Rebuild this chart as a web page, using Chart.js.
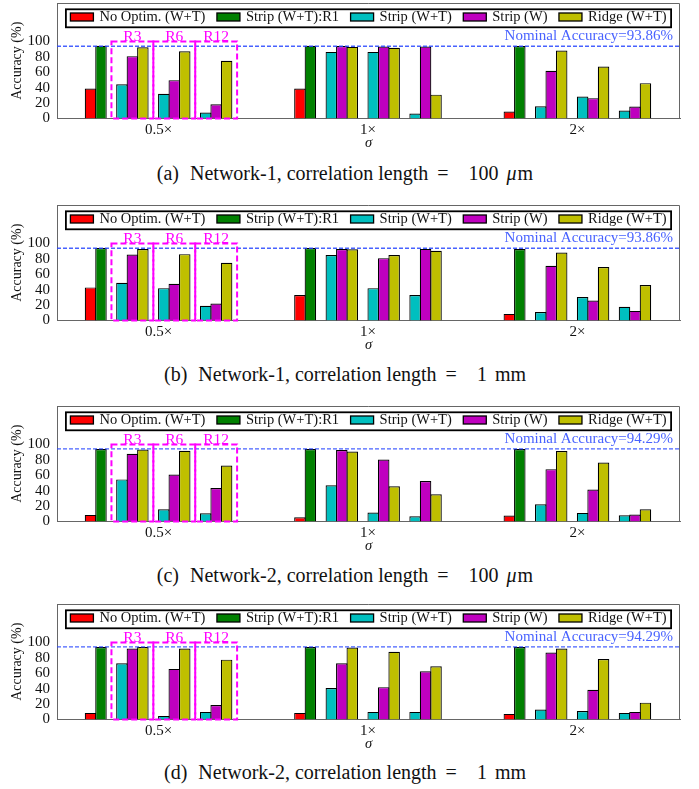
<!DOCTYPE html>
<html><head><meta charset="utf-8">
<script src="https://cdn.jsdelivr.net/npm/chart.js@4.4.0/dist/chart.umd.min.js"></script>
<style>
body{margin:0;background:#fff;width:699px;height:789px;position:relative;overflow:hidden;font-family:"Liberation Serif","DejaVu Serif",serif;color:#111;}
.panel{position:absolute;left:0;width:699px;height:160px;}
.cap{position:absolute;left:0;width:690px;text-align:center;font-size:20px;line-height:22px;white-space:nowrap;}
.g1{margin-left:11px}.g2{margin-left:9px}.g3{margin-left:20px}.g4{margin-left:8px}
.mu{font-style:italic;margin-right:1px}
</style></head><body>
<div class="panel" style="top:0px"><canvas id="c0" width="699" height="160"></canvas></div>
<div class="panel" style="top:202px"><canvas id="c1" width="699" height="160"></canvas></div>
<div class="panel" style="top:403px"><canvas id="c2" width="699" height="160"></canvas></div>
<div class="panel" style="top:601px"><canvas id="c3" width="699" height="160"></canvas></div>
<div class="cap" style="top:162px">(a)<span class="g1">Network-1, correlation length</span><span class="g2">=</span><span class="g3">100</span><span class="g4"><span class="mu">μ</span>m</span></div>
<div class="cap" style="top:363px">(b)<span class="g1">Network-1, correlation length</span><span class="g2">=</span><span class="g3">1</span><span class="g4">mm</span></div>
<div class="cap" style="top:564px">(c)<span class="g1">Network-2, correlation length</span><span class="g2">=</span><span class="g3">100</span><span class="g4"><span class="mu">μ</span>m</span></div>
<div class="cap" style="top:761px">(d)<span class="g1">Network-2, correlation length</span><span class="g2">=</span><span class="g3">1</span><span class="g4">mm</span></div>
<script>
// ---- data ----
const groupLabels = ['0.5×', '1×', '2×'];
const subsetLabels = ['R3', 'R6', 'R12'];
const seriesLabels = ['No Optim. (W+T)', 'Strip (W+T):R1', 'Strip (W+T)', 'Strip (W)', 'Ridge (W+T)'];
const nominalAcc = [93.86, 93.86, 94.29, 94.29];
const yTicks = [0, 20, 40, 60, 80, 100];

// (a) Network-1, 100 um   values per group [0.5x, 1x, 2x]; subsets [R3, R6, R12]
const noOptimA = [39, 39, 9];
const stripR1A = [94.5, 94.5, 94.2];
const stripWTA = [[44.5, 32, 7.8], [86.5, 86.5, 6.5], [16, 28.6, 10.4]];
const stripWA  = [[81, 49.8, 18.6], [94, 93.5, 93.5], [62, 26.4, 15.6]];
const ridgeA   = [[92.6, 87.4, 74.9], [93, 91.8, 31], [88.3, 67.5, 45.9]];

// (b) Network-1, 1 mm
const noOptimB = [43, 33, 8.6];
const stripR1B = [94, 94, 92.7];
const stripWTB = [[49, 42, 19], [85, 42, 33], [11, 30.6, 17.7]];
const stripWB  = [[85.8, 47.8, 22], [92.7, 81, 93], [71, 25.9, 12.5]];
const ridgeB   = [[92.7, 86.2, 75], [92.5, 85, 90.5], [88.4, 69.4, 46]];

// (c) Network-2, 100 um
const noOptimC = [8.6, 5.6, 7.8];
const stripR1C = [94, 94, 94];
const stripWTC = [[54.7, 16, 10.8], [47, 11.6, 6.9], [22.4, 11.2, 8.2]];
const stripWC  = [[88, 61, 43.5], [92.7, 80.6, 52.6], [68, 41.4, 9]];
const ridgeC   = [[93.5, 91.8, 72.8], [91, 45.7, 35.3], [91.4, 76.7, 16]];

// (d) Network-2, 1 mm
const noOptimD = [8.6, 8.6, 7.3];
const stripR1D = [94, 94, 94];
const stripWTD = [[73, 4.7, 9.9], [40.8, 9.9, 9.9], [12.9, 11, 8.6]];
const stripWD  = [[92.3, 65.7, 18.9], [73, 42, 62.7], [87, 38.6, 9.9]];
const ridgeD   = [[94, 92.3, 77.7], [93.5, 88, 69], [92.3, 78.5, 21.9]];

const panels = [
  {noOptim: noOptimA, stripR1: stripR1A, stripWT: stripWTA, stripW: stripWA, ridge: ridgeA, nominal: nominalAcc[0]},
  {noOptim: noOptimB, stripR1: stripR1B, stripWT: stripWTB, stripW: stripWB, ridge: ridgeB, nominal: nominalAcc[1]},
  {noOptim: noOptimC, stripR1: stripR1C, stripWT: stripWTC, stripW: stripWC, ridge: ridgeC, nominal: nominalAcc[2]},
  {noOptim: noOptimD, stripR1: stripR1D, stripWT: stripWTD, stripW: stripWD, ridge: ridgeD, nominal: nominalAcc[3]},
];

// ---- layout / style ----
const FONT = '"Liberation Serif", "DejaVu Serif", serif';
const colors = ['#ff0000', '#008000', '#00bfbf', '#bf00bf', '#bfbf00'];
const groupPos = [0, 20, 40];          // slot units (one slot = one bar width)
const subsetStart = [-3.5, 0.5, 4.5];  // centre of first bar of each subset
const nominalColor = 'rgba(40,70,255,0.85)';
const spineColor = '#666';

const decor = {
  id: 'decor',
  afterDatasetsDraw(chart, args, opts) {
    const {ctx, chartArea: a, scales: {x, y}} = chart;
    ctx.save();
    // top/right spines
    ctx.strokeStyle = spineColor; ctx.lineWidth = 1;
    ctx.beginPath();
    ctx.moveTo(a.left, a.top + 0.5); ctx.lineTo(a.right - 0.5, a.top + 0.5); ctx.lineTo(a.right - 0.5, a.bottom);
    ctx.stroke();
    // nominal line
    const ny = y.getPixelForValue(opts.nominal);
    ctx.strokeStyle = nominalColor; ctx.lineWidth = 1.3; ctx.setLineDash([4, 2]);
    ctx.beginPath(); ctx.moveTo(a.left, ny); ctx.lineTo(a.right, ny); ctx.stroke();
    ctx.setLineDash([]);
    ctx.fillStyle = nominalColor; ctx.font = '15px ' + FONT;
    ctx.textAlign = 'right'; ctx.textBaseline = 'alphabetic';
    ctx.fillText('Nominal Accuracy=' + opts.nominal.toFixed(2) + '%', a.right - 7, ny - 6);
    // magenta subset boxes in first group
    ctx.strokeStyle = '#ff00ff'; ctx.lineWidth = 2; ctx.setLineDash([6, 3]);
    ctx.fillStyle = '#ff00ff'; ctx.textAlign = 'center'; ctx.font = '15.5px ' + FONT;
    const y0 = y.getPixelForValue(100), y1 = y.getPixelForValue(0);
    subsetStart.forEach((s, i) => {
      const x0 = x.getPixelForValue(groupPos[0] + s - 1);
      const x1 = x.getPixelForValue(groupPos[0] + s + 3);
      ctx.strokeRect(x0, y0, x1 - x0, y1 - y0);
      ctx.fillText(subsetLabels[i], (x0 + x1) / 2, y0 - 1);
    });
    ctx.setLineDash([]);
    // legend
    ctx.font = '14.5px ' + FONT;
    const ds = chart.data.datasets;
    const boxW = 23, boxH = 8, gap = 6, spacing = 11.5;
    const widths = ds.map(d => ctx.measureText(d.label).width);
    const total = widths.reduce((s, w) => s + w + boxW + gap, 0) + spacing * (ds.length - 1);
    const fx = (a.left + a.right) / 2 - total / 2 - 4.5;
    const fy = a.top + 6.3;
    ctx.fillStyle = '#fff'; ctx.fillRect(fx, fy, total + 9, 18);
    ctx.strokeStyle = '#000'; ctx.lineWidth = 1.8;
    ctx.strokeRect(fx, fy, total + 9, 18);
    let cx = fx + 4.5;
    ctx.textAlign = 'left'; ctx.textBaseline = 'alphabetic';
    ds.forEach((d, i) => {
      ctx.fillStyle = d.backgroundColor; ctx.fillRect(cx, fy + 3.7, boxW, boxH);
      ctx.strokeStyle = '#000'; ctx.lineWidth = 1.3; ctx.strokeRect(cx, fy + 3.7, boxW, boxH);
      ctx.fillStyle = '#111';
      ctx.fillText(d.label, cx + boxW + gap, fy + 11.8);
      cx += boxW + gap + widths[i] + spacing;
    });
    ctx.restore();
  }
};

function pts(vals, off) { return vals.map((v, g) => ({x: groupPos[g] + off, y: v})); }
function pts3(vals, k) { return vals.flatMap((arr, g) => arr.map((v, s) => ({x: groupPos[g] + subsetStart[s] + k, y: v}))); }

panels.forEach((p, i) => {
  const datasets = [
    {label: seriesLabels[0], data: pts(p.noOptim, -6.5), backgroundColor: colors[0]},
    {label: seriesLabels[1], data: pts(p.stripR1, -5.5), backgroundColor: colors[1]},
    {label: seriesLabels[2], data: pts3(p.stripWT, 0), backgroundColor: colors[2]},
    {label: seriesLabels[3], data: pts3(p.stripW, 1), backgroundColor: colors[3]},
    {label: seriesLabels[4], data: pts3(p.ridge, 2), backgroundColor: colors[4]},
  ];
  new Chart(document.getElementById('c' + i), {
    type: 'bar',
    data: {datasets},
    plugins: [decor],
    options: {
      responsive: false, animation: false, devicePixelRatio: 1,
      layout: {padding: {top: 3, right: 19, left: 0, bottom: 0}},
      datasets: {bar: {grouped: false, barPercentage: 1.1, categoryPercentage: 1, borderColor: '#000', borderWidth: 1.2}},
      plugins: {legend: {display: false}, tooltip: {enabled: false}, decor: {nominal: p.nominal}},
      scales: {
        x: {
          type: 'linear', min: -9.7, max: 49.8, offset: false,
          grid: {display: false, offset: false, drawTicks: false}, border: {display: true, color: spineColor},
          afterBuildTicks: s => { s.ticks = groupPos.map(v => ({value: v})); },
          afterFit: s => { s.height = 41.5; s.paddingLeft = 0; s.paddingRight = 0; },
          ticks: {autoSkip: false, maxRotation: 0, padding: 3, color: '#111', font: {family: FONT, size: 15},
                  callback: (v, idx) => groupLabels[idx]},
          title: {display: true, text: 'σ', color: '#111', font: {family: FONT, size: 14.5, style: 'italic'}, padding: {top: 0, bottom: 8.5}}
        },
        y: {
          min: 0, max: 150,
          grid: {display: false, drawTicks: false}, border: {display: true, color: spineColor},
          afterBuildTicks: s => { s.ticks = yTicks.map(v => ({value: v})); },
          afterFit: s => { s.width = 57; s.paddingTop = 0; s.paddingBottom = 0; },
          ticks: {padding: 7, color: '#111', font: {family: FONT, size: 15}},
          title: {display: true, text: 'Accuracy (%)', color: '#111', font: {family: FONT, size: 14}, padding: {top: 8.5, bottom: 0}}
        }
      }
    }
  });
});
</script>
</body></html>
